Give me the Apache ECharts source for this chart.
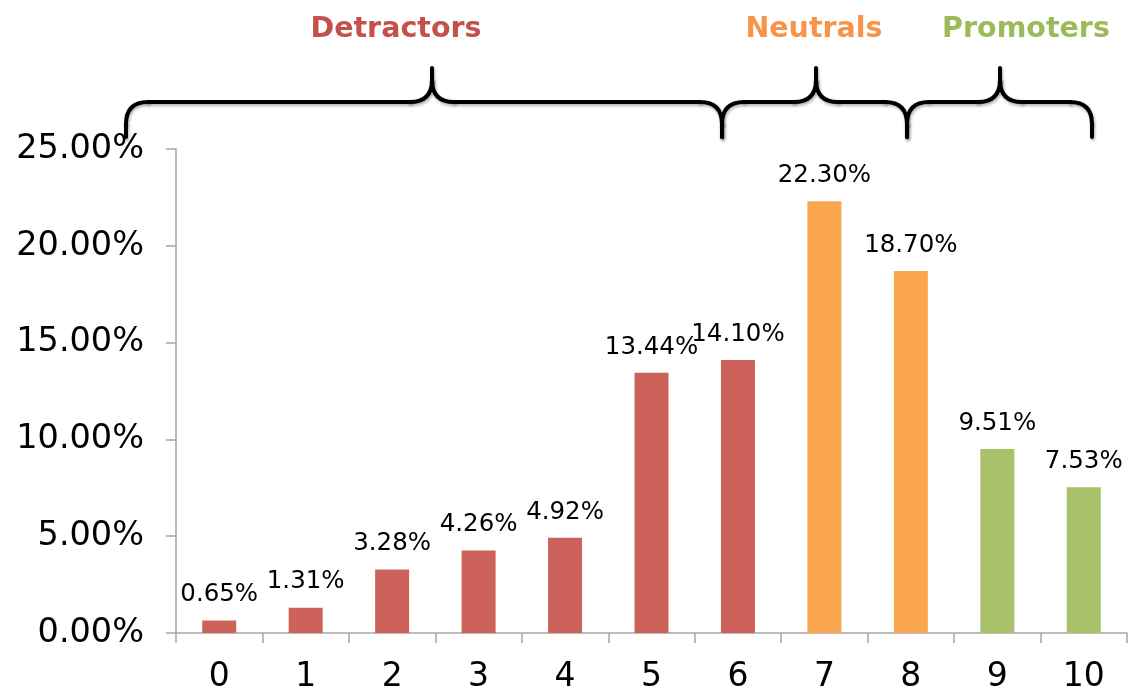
<!DOCTYPE html>
<html>
<head>
<meta charset="utf-8">
<script src="https://cdn.jsdelivr.net/npm/echarts@6/dist/echarts.min.js"></script>
<style>
html,body{margin:0;padding:0;background:#fff;}
#chart{width:1132px;height:696px;}
</style>
</head>
<body>
<div id="chart"></div>
<script>
// ---- data ----
const categories = ['0','1','2','3','4','5','6','7','8','9','10'];
const values = [0.65, 1.31, 3.28, 4.26, 4.92, 13.44, 14.10, 22.30, 18.70, 9.51, 7.53];
const groups = ['Detractors','Detractors','Detractors','Detractors','Detractors','Detractors','Detractors','Neutrals','Neutrals','Promoters','Promoters'];
const groupNames = ['Detractors','Neutrals','Promoters'];
const yTicks = [0, 5, 10, 15, 20, 25];

// ---- styles ----
const barColors = { Detractors: '#CD625B', Neutrals: '#FAA54F', Promoters: '#A9C26A' };
const titleColors = { Detractors: '#C4504C', Neutrals: '#F8944A', Promoters: '#9ABB58' };
const font = '"DejaVu Sans", Verdana, sans-serif';

const chart = echarts.init(document.getElementById('chart'));

// braces (decorative annotations, pixel positions)
const braceDefs = [
  { x1: 126, xm: 432, x2: 722, tx: 396 },
  { x1: 722, xm: 816, x2: 907, tx: 814 },
  { x1: 907, xm: 1000, x2: 1092, tx: 1026 }
];
const braceStyle = { fill: null, stroke: '#000', lineWidth: 4, lineCap: 'round', lineJoin: 'round',
  shadowBlur: 3, shadowColor: 'rgba(0,0,0,0.3)', shadowOffsetX: 1, shadowOffsetY: 2 };
function seg(x1, y1, x2, y2) {
  return { type: 'line', shape: { x1, y1, x2, y2 }, style: braceStyle };
}
function curve(x1, y1, cx, cy, x2, y2) {
  return { type: 'bezierCurve', shape: { x1, y1, x2, y2, cpx1: cx, cpy1: cy }, style: braceStyle };
}
const graphics = [];
braceDefs.forEach((b, i) => {
  const yB = 137, yM = 102, yT = 68, r = 22;
  graphics.push(seg(b.x1, yB, b.x1, yM + r));
  graphics.push(curve(b.x1, yM + r, b.x1, yM, b.x1 + r, yM));
  graphics.push(seg(b.x1 + r, yM, b.xm - r, yM));
  graphics.push(curve(b.xm - r, yM, b.xm, yM, b.xm, yM - r));
  graphics.push(seg(b.xm, yM - r, b.xm, yT));
  graphics.push(curve(b.xm, yM - r, b.xm, yM, b.xm + r, yM));
  graphics.push(seg(b.xm + r, yM, b.x2 - r, yM));
  graphics.push(curve(b.x2 - r, yM, b.x2, yM, b.x2, yM + r));
  graphics.push(seg(b.x2, yM + r, b.x2, yB));
  graphics.push({
    type: 'text',
    x: b.tx, y: 30,
    style: { text: groupNames[i], fill: titleColors[groupNames[i]], font: 'bold 28.5px ' + font,
             textAlign: 'center', textVerticalAlign: 'middle' }
  });
});

const axisColor = '#A6A6A6';
chart.setOption({
  animation: false,
  backgroundColor: '#fff',
  grid: { left: 176, right: 5, top: 149, bottom: 63 },
  xAxis: {
    type: 'category',
    data: categories,
    axisLine: { lineStyle: { color: axisColor, width: 1.5 } },
    axisTick: { show: true, length: 10, lineStyle: { color: axisColor, width: 1.5 } },
    axisLabel: { color: '#000', fontFamily: font, fontSize: 33, margin: 28 }
  },
  yAxis: {
    type: 'value',
    min: yTicks[0], max: yTicks[yTicks.length - 1], interval: 5,
    axisLine: { show: true, lineStyle: { color: axisColor, width: 1.5 } },
    axisTick: { show: true, length: 10, lineStyle: { color: axisColor, width: 1.5 } },
    splitLine: { show: false },
    axisLabel: { color: '#000', fontFamily: font, fontSize: 33.5, margin: 32, padding: [8, 0, 0, 0],
                 formatter: v => v.toFixed(2) + '%' }
  },
  series: [{
    type: 'bar',
    barWidth: 34,
    data: values.map((v, i) => ({ value: v, itemStyle: { color: barColors[groups[i]] } })),
    label: {
      show: true, position: 'top', distance: 13,
      color: '#000', fontFamily: font, fontSize: 24.5,
      formatter: p => p.value.toFixed(2) + '%'
    }
  }],
  graphic: graphics
});
</script>
</body>
</html>
